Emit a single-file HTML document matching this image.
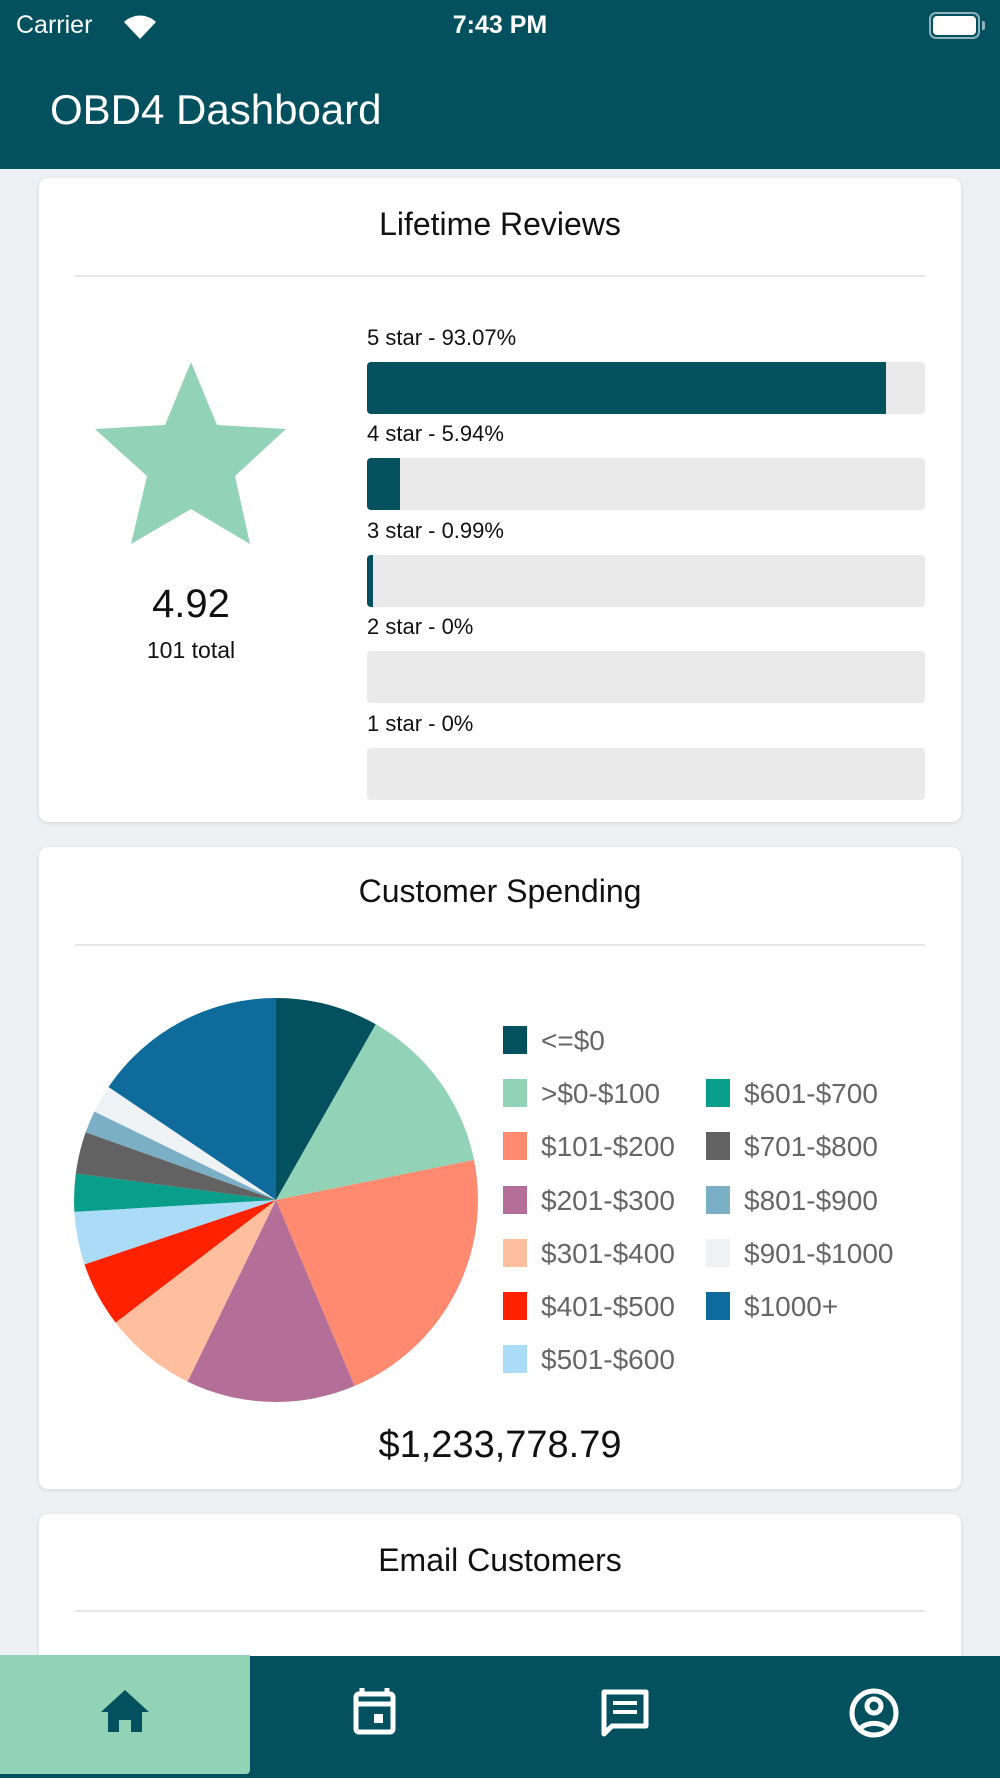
<!DOCTYPE html>
<html><head><meta charset="utf-8"><style>
*{margin:0;padding:0;box-sizing:border-box}
body{width:1000px;height:1778px;background:#edf1f4;font-family:"Liberation Sans",sans-serif;position:relative;overflow:hidden}
.abs{position:absolute}
.hdr{left:0;top:0;width:1000px;height:169px;background:#03505f}
.card{background:#fff;border-radius:9px;box-shadow:0 1px 4px rgba(0,0,0,.12);left:39px;width:922px}
.ttl{width:100%;text-align:center;font-size:32px;color:#111}
.div{left:36px;width:850px;height:2px;background:#e5e7e9}
.bar{left:328px;width:558px;height:52px;background:#eaeaea;border-radius:4px;overflow:hidden}
.bar i{display:block;height:100%;background:#03505f}
.lbl{left:328px;font-size:22px;color:#111}
.leg{font-size:28px;color:#666}
.sw{width:24px;height:28px}
</style></head><body>
<div class="abs hdr"></div>
<div class="abs" style="left:16px;top:11px;color:#fff;font-size:25px">Carrier</div>
<svg class="abs" style="left:122px;top:12px" width="36" height="28" viewBox="0 0 36 28"><path d="M18 27 L2 10 A23 23 0 0 1 34 10 Z" fill="#fff"/><path d="M18 27 L7 15 A16 16 0 0 1 29 15Z" fill="#03505f" opacity=".0"/></svg>
<div class="abs" style="left:0;width:1000px;top:11px;text-align:center;color:#fff;font-size:25px;font-weight:bold">7:43 PM</div>
<div class="abs" style="left:929px;top:12px;width:51px;height:27px;border:2px solid #8fb2bb;border-radius:7px;padding:2px"><div style="width:100%;height:100%;background:#fff;border-radius:4px"></div></div>
<div class="abs" style="left:982px;top:21px;width:3px;height:9px;background:#8fb2bb;border-radius:0 2px 2px 0"></div>
<div class="abs" style="left:50px;top:86px;color:#fff;font-size:42px">OBD4 Dashboard</div>

<div class="abs card" style="top:178px;height:644px">
 <div class="abs ttl" style="top:28px">Lifetime Reviews</div>
 <div class="abs div" style="top:97px"></div>
 <div class="abs lbl" style="top:147px">5 star - 93.07%</div>
 <div class="abs bar" style="top:184px"><i style="width:519px"></i></div>
 <div class="abs lbl" style="top:243px">4 star - 5.94%</div>
 <div class="abs bar" style="top:280px"><i style="width:33px"></i></div>
 <div class="abs lbl" style="top:340px">3 star - 0.99%</div>
 <div class="abs bar" style="top:377px"><i style="width:6px"></i></div>
 <div class="abs lbl" style="top:436px">2 star - 0%</div>
 <div class="abs bar" style="top:473px"></div>
 <div class="abs lbl" style="top:533px">1 star - 0%</div>
 <div class="abs bar" style="top:570px"></div>
 <div class="abs" style="left:0;width:304px;top:404px;text-align:center;font-size:40px;color:#111">4.92</div>
 <div class="abs" style="left:0;width:304px;top:459px;text-align:center;font-size:23px;color:#111">101 total</div>
</div>
<svg class="abs" style="left:0;top:0" width="1000" height="1778">
 <polygon points="191,362 165,425 95,429 147,476 131,544 191,509 250,544 235,476 286,429 217,425" fill="#92d2b6"/>
</svg>

<div class="abs card" style="top:847px;height:642px">
 <div class="abs ttl" style="top:26px">Customer Spending</div>
 <div class="abs div" style="top:97px"></div>
 <div class="abs" style="left:0;width:922px;top:577px;text-align:center;font-size:38px;color:#111">$1,233,778.79</div>
</div>
<svg class="abs" style="left:0;top:0" width="1000" height="1778">
<g stroke="none">
<path d="M276 1200L276 998A202 202 0 0 1 375.8 1024.3Z" fill="#03505f"/>
<path d="M276 1200L375.8 1024.3A202 202 0 0 1 474 1160Z" fill="#92d2b6"/>
<path d="M276 1200L474 1160A202 202 0 0 1 354.6 1386Z" fill="#ff8a70"/>
<path d="M276 1200L354.6 1386A202 202 0 0 1 187.5 1381.6Z" fill="#b46f98"/>
<path d="M276 1200L187.5 1381.6A202 202 0 0 1 115.6 1322.6Z" fill="#ffbf9f"/>
<path d="M276 1200L115.6 1322.6A202 202 0 0 1 84.5 1264.4Z" fill="#ff2200"/>
<path d="M276 1200L84.5 1264.4A202 202 0 0 1 74.4 1211.9Z" fill="#aadcf8"/>
<path d="M276 1200L74.4 1211.9A202 202 0 0 1 75.8 1173.5Z" fill="#089e8a"/>
<path d="M276 1200L75.8 1173.5A202 202 0 0 1 85.7 1132.3Z" fill="#626262"/>
<path d="M276 1200L85.7 1132.3A202 202 0 0 1 94.4 1111.5Z" fill="#7aafc5"/>
<path d="M276 1200L94.4 1111.5A202 202 0 0 1 108.5 1087Z" fill="#eef2f5"/>
<path d="M276 1200L108.5 1087A202 202 0 0 1 276 998Z" fill="#0e6b9c"/>
</g>
<g font-family="Liberation Sans, sans-serif" font-size="28" fill="#666">
<rect x="503" y="1026" width="24" height="28" fill="#03505f"/><text x="541" y="1050">&lt;=$0</text>
<rect x="503" y="1079" width="24" height="28" fill="#92d2b6"/><text x="541" y="1103">&gt;$0-$100</text>
<rect x="503" y="1132" width="24" height="28" fill="#ff8a70"/><text x="541" y="1156">$101-$200</text>
<rect x="503" y="1186" width="24" height="28" fill="#b46f98"/><text x="541" y="1210">$201-$300</text>
<rect x="503" y="1239" width="24" height="28" fill="#ffbf9f"/><text x="541" y="1263">$301-$400</text>
<rect x="503" y="1292" width="24" height="28" fill="#ff2200"/><text x="541" y="1316">$401-$500</text>
<rect x="503" y="1345" width="24" height="28" fill="#aadcf8"/><text x="541" y="1369">$501-$600</text>
<rect x="706" y="1079" width="24" height="28" fill="#089e8a"/><text x="744" y="1103">$601-$700</text>
<rect x="706" y="1132" width="24" height="28" fill="#626262"/><text x="744" y="1156">$701-$800</text>
<rect x="706" y="1186" width="24" height="28" fill="#7aafc5"/><text x="744" y="1210">$801-$900</text>
<rect x="706" y="1239" width="24" height="28" fill="#eef2f5"/><text x="744" y="1263">$901-$1000</text>
<rect x="706" y="1292" width="24" height="28" fill="#0e6b9c"/><text x="744" y="1316">$1000+</text>
</g>
</svg>

<div class="abs card" style="top:1514px;height:200px">
 <div class="abs ttl" style="top:28px">Email Customers</div>
 <div class="abs div" style="top:96px"></div>
</div>

<div class="abs" style="left:0;top:1656px;width:1000px;height:122px;background:#03505f"></div>
<div class="abs" style="left:0;top:1655px;width:250px;height:119px;background:#92d2b6;border-radius:0 0 4px 0"></div>
<svg class="abs" style="left:0;top:0" width="1000" height="1778">
 <path d="M125 1690 L101 1712 L108 1712 L108 1732 L119 1732 L119 1720 L131 1720 L131 1732 L142 1732 L142 1712 L149 1712 Z" fill="#03505f"/>
 <g fill="none" stroke="#fff" stroke-width="5">
  <rect x="356" y="1694" width="37" height="38" rx="3"/>
  <path d="M362 1688v8M387 1688v8M356 1704h37"/>
  <path d="M604 1692h42v34h-34l-8 8z" stroke-linejoin="round"/>
  <path d="M613 1703h24M613 1712h24" stroke-width="4"/>
  <circle cx="874" cy="1713" r="22"/>
  <circle cx="874" cy="1706" r="7"/>
  <path d="M860 1729a16 11 0 0 1 28 0"/>
 </g>
 <rect x="374" y="1714" width="9" height="9" fill="#fff"/>
</svg>
</body></html>
